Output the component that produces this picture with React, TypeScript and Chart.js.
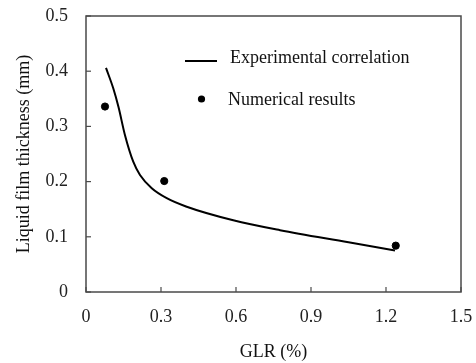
import React, { useEffect, useRef } from "react";
import { Chart, registerables } from "chart.js";

Chart.register(...registerables);

const curveX = [0.08, 0.109, 0.13, 0.156, 0.189, 0.216, 0.263, 0.323, 0.4, 0.589, 0.776, 1.05, 1.236];
const curveY = [0.406, 0.369, 0.335, 0.284, 0.236, 0.212, 0.188, 0.17, 0.155, 0.13, 0.112, 0.09, 0.075];
const numX = [0.076, 0.313, 1.239];
const numY = [0.336, 0.201, 0.084];
const xTicks = [0, 0.3, 0.6, 0.9, 1.2, 1.5];
const yTicks = [0, 0.1, 0.2, 0.3, 0.4, 0.5];
const seriesNames = ["Experimental correlation", "Numerical results"];
const xTitle = "GLR (%)";
const yTitle = "Liquid film thickness (mm)";

const FONT = "'Liberation Serif', 'Times New Roman', serif";

const framePlugin = {
  id: "frame",
  afterDraw(chart: any) {
    const { ctx, chartArea: a, scales } = chart;
    ctx.save();
    ctx.strokeStyle = "#4a4a4a";
    ctx.lineWidth = 1.5;
    ctx.strokeRect(a.left, a.top, a.right - a.left, a.bottom - a.top);
    ctx.lineWidth = 1.2;
    const tl = 5;
    xTicks.forEach((v) => {
      const px = scales.x.getPixelForValue(v);
      ctx.beginPath();
      ctx.moveTo(px, a.bottom);
      ctx.lineTo(px, a.bottom - tl);
      ctx.stroke();
    });
    yTicks.forEach((v) => {
      const py = scales.y.getPixelForValue(v);
      ctx.beginPath();
      ctx.moveTo(a.left, py);
      ctx.lineTo(a.left + tl, py);
      ctx.stroke();
    });
    // legend
    ctx.strokeStyle = "#000";
    ctx.lineWidth = 2;
    ctx.beginPath();
    ctx.moveTo(185, 61);
    ctx.lineTo(217, 61);
    ctx.stroke();
    ctx.fillStyle = "#000";
    ctx.beginPath();
    ctx.arc(201.5, 99, 3.6, 0, Math.PI * 2);
    ctx.fill();
    ctx.fillStyle = "#111";
    ctx.font = `18px ${FONT}`;
    ctx.textBaseline = "middle";
    ctx.textAlign = "left";
    ctx.fillText(seriesNames[0], 230, 58);
    ctx.fillText(seriesNames[1], 228, 100);
    ctx.restore();
  },
};

const zeroPad = (s: any) => {
  s.paddingTop = 0;
  s.paddingBottom = 0;
  s.paddingLeft = 0;
  s.paddingRight = 0;
};

export default function App() {
  const ref = useRef<HTMLCanvasElement>(null);
  useEffect(() => {
    if (!ref.current) return;
    const chart = new Chart(ref.current, {
      type: "scatter",
      data: {
        datasets: [
          {
            label: seriesNames[0],
            type: "line",
            data: curveX.map((x, i) => ({ x, y: curveY[i] })),
            borderColor: "#000",
            borderWidth: 2,
            pointRadius: 0,
            cubicInterpolationMode: "monotone",
            fill: false,
          } as any,
          {
            label: seriesNames[1],
            data: numX.map((x, i) => ({ x, y: numY[i] })),
            backgroundColor: "#000",
            borderColor: "#000",
            pointRadius: 3.6,
          },
        ],
      },
      options: {
        responsive: false,
        animation: false,
        devicePixelRatio: 1,
        layout: { padding: { top: 16, right: 15, left: 0, bottom: 0 } },
        plugins: { legend: { display: false }, tooltip: { enabled: false } },
        scales: {
          x: {
            type: "linear",
            min: 0,
            max: 1.5,
            afterBuildTicks: (s: any) => {
              s.ticks = xTicks.map((v) => ({ value: v }));
            },
            afterFit: (s: any) => {
              s.height = 71;
              zeroPad(s);
            },
            grid: { display: false, drawTicks: false },
            border: { display: false },
            ticks: {
              padding: 14,
              color: "#222",
              font: { family: FONT, size: 18 },
              maxRotation: 0,
              callback: (v: any) => String(v),
            },
            title: {
              display: true,
              text: xTitle,
              color: "#111",
              font: { family: FONT, size: 18 },
              padding: { top: 0, bottom: 0 },
            },
          },
          y: {
            type: "linear",
            min: 0,
            max: 0.5,
            afterBuildTicks: (s: any) => {
              s.ticks = yTicks.map((v) => ({ value: v }));
            },
            afterFit: (s: any) => {
              s.width = 86;
              zeroPad(s);
            },
            grid: { display: false, drawTicks: false },
            border: { display: false },
            ticks: {
              padding: 18,
              color: "#222",
              font: { family: FONT, size: 18 },
              callback: (v: any) => String(v),
            },
            title: {
              display: true,
              text: yTitle,
              color: "#111",
              font: { family: FONT, size: 18 },
              padding: { top: 13, bottom: 0 },
            },
          },
        },
      },
      plugins: [framePlugin],
    });
    return () => chart.destroy();
  }, []);
  return (
    <div style={{ position: "fixed", left: 0, top: 0, width: 476, height: 363, background: "#fff" }}>
      <canvas ref={ref} width={476} height={363} />
    </div>
  );
}
